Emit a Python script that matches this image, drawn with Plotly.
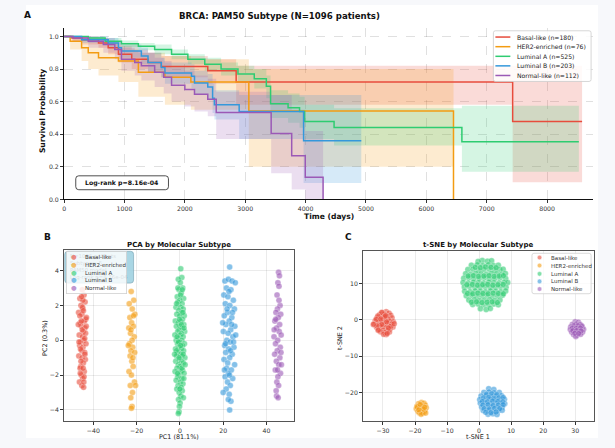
import plotly.graph_objects as go

W, H = 615, 448
FONT = "DejaVu Sans"


def px(x):
    return x / W


def py(y):
    return 1 - y / H


# ---------------- data ----------------
subtypes = ["Basal-like", "HER2-enriched", "Luminal A", "Luminal B", "Normal-like"]
counts = [180, 76, 525, 203, 112]
colors = ["#e74c3c", "#f39c12", "#2ecc71", "#3498db", "#9b59b6"]
rgb = [(231, 76, 60), (243, 156, 18), (46, 204, 113), (52, 152, 219), (155, 89, 182)]

km_t_basal = [0, 130, 300, 570, 730, 900, 1120, 1390, 1610, 2380, 2850, 7430, 8580]
km_s_basal = [1.0, 0.99, 0.98, 0.96, 0.93, 0.89, 0.86, 0.84, 0.815, 0.79, 0.72, 0.478, 0.478]
km_lo_basal = [1.0, 0.97, 0.95, 0.93, 0.89, 0.84, 0.80, 0.78, 0.75, 0.71, 0.58, 0.105, 0.105]
km_hi_basal = [1.0, 1.0, 1.0, 0.99, 0.97, 0.94, 0.92, 0.90, 0.88, 0.86, 0.82, 0.82, 0.82]

km_t_her2 = [0, 100, 290, 400, 570, 900, 1230, 1670, 2100, 3060, 6450]
km_s_her2 = [1.0, 0.97, 0.93, 0.90, 0.87, 0.85, 0.78, 0.75, 0.72, 0.543, 0.0]
km_lo_her2 = [1.0, 0.92, 0.85, 0.80, 0.76, 0.72, 0.63, 0.58, 0.55, 0.20, 0.0]
km_hi_her2 = [1.0, 1.0, 1.0, 0.98, 0.96, 0.95, 0.90, 0.88, 0.86, 0.80, 0.0]

km_t_luma = [0, 400, 680, 950, 1230, 1500, 1780, 2050, 2330, 2600, 2880, 3150, 3350, 3420, 3710, 3900, 3984, 4472, 6589, 8526]
km_s_luma = [1.0, 0.99, 0.97, 0.955, 0.94, 0.92, 0.89, 0.86, 0.83, 0.80, 0.77, 0.74, 0.695, 0.587, 0.563, 0.54, 0.478, 0.441, 0.354, 0.354]
km_lo_luma = [1.0, 0.98, 0.95, 0.935, 0.915, 0.89, 0.86, 0.83, 0.79, 0.76, 0.72, 0.68, 0.62, 0.50, 0.47, 0.44, 0.37, 0.33, 0.17, 0.17]
km_hi_luma = [1.0, 1.0, 0.99, 0.975, 0.96, 0.95, 0.92, 0.89, 0.87, 0.84, 0.82, 0.80, 0.76, 0.67, 0.65, 0.63, 0.58, 0.56, 0.575, 0.575]

km_t_lumb = [0, 290, 730, 900, 950, 1280, 1390, 1610, 1670, 2110, 2160, 2380, 2460, 2490, 2900, 3967, 4923]
km_s_lumb = [1.0, 0.98, 0.96, 0.93, 0.91, 0.88, 0.84, 0.81, 0.776, 0.756, 0.715, 0.69, 0.62, 0.58, 0.539, 0.36, 0.36]
km_lo_lumb = [1.0, 0.96, 0.93, 0.89, 0.87, 0.83, 0.78, 0.75, 0.71, 0.68, 0.64, 0.61, 0.53, 0.49, 0.37, 0.10, 0.10]
km_hi_lumb = [1.0, 1.0, 0.99, 0.97, 0.95, 0.93, 0.90, 0.87, 0.84, 0.83, 0.79, 0.77, 0.71, 0.67, 0.64, 0.64, 0.64]

km_t_norm = [0, 150, 400, 650, 840, 950, 1170, 1280, 1500, 1650, 1780, 2000, 2160, 2380, 2520, 3430, 3770, 3995, 4290]
km_s_norm = [1.0, 0.99, 0.97, 0.95, 0.92, 0.86, 0.84, 0.82, 0.78, 0.75, 0.70, 0.675, 0.645, 0.615, 0.533, 0.404, 0.268, 0.136, 0.0]
km_lo_norm = [1.0, 0.97, 0.93, 0.90, 0.86, 0.79, 0.76, 0.73, 0.69, 0.65, 0.60, 0.57, 0.54, 0.51, 0.37, 0.16, 0.06, 0.0, 0.0]
km_hi_norm = [1.0, 1.0, 1.0, 0.99, 0.97, 0.93, 0.91, 0.90, 0.87, 0.85, 0.81, 0.79, 0.76, 0.74, 0.66, 0.64, 0.55, 0.42, 0.0]

logrank_p = "8.16e-04"
n_patients = 1096
pc1_pct, pc2_pct = 81.1, 0.3

basal_pca = [(-45.1, 2.9), (-44.3, 2.6), (-46.2, 2.4), (-43.8, 2.2), (-45.7, 2.0), (-44.9, 1.8), (-46.8, 1.6), (-43.5, 1.2),
             (-45.3, 1.5), (-44.1, 1.1), (-46.0, 1.0), (-45.5, 0.8), (-43.9, 0.7), (-44.7, 0.5), (-46.5, 0.3), (-45.0, 0.2),
             (-44.4, 0.0), (-45.9, -0.1), (-43.2, 1.3), (-46.3, -0.3), (-44.8, -0.4), (-45.4, -0.6), (-44.0, -0.7), (-46.7, -0.9),
             (-45.2, -1.0), (-43.7, -1.1), (-44.6, -1.3), (-45.8, -1.5), (-46.1, -1.6), (-44.2, -1.8), (-45.6, -2.0), (-43.4, -0.2),
             (-44.9, -2.2), (-46.4, -2.4), (-45.3, -2.6), (-44.5, -2.7), (-45.0, 1.9), (-43.6, 0.4), (-46.9, 0.9), (-44.8, 2.3),
             (-45.7, -1.2), (-44.3, -2.1), (-45.1, 0.6), (-46.2, 1.4), (-43.9, -0.8), (-44.6, 1.7), (-45.4, 2.5), (-46.0, -1.9),
             (-44.0, 0.1), (-45.9, -0.5), (-43.3, 0.8), (-44.7, -1.6), (-45.5, 1.1), (-46.6, -0.1), (-44.4, -2.4)]
her2_pca = [(-22.5, 2.8), (-21.3, 2.3), (-23.4, 2.1), (-22.0, 1.8), (-20.8, 1.5), (-23.1, 1.3), (-22.3, 1.0), (-21.5, 0.8),
            (-23.6, 0.7), (-22.8, 0.4), (-21.1, 0.2), (-22.1, 0.0), (-23.3, -0.2), (-21.8, -0.4), (-22.6, -0.6), (-20.9, -0.7),
            (-23.0, -0.9), (-22.2, -1.2), (-21.6, -1.5), (-23.5, -1.8), (-22.4, -2.0), (-21.0, -2.4), (-22.9, -2.6), (-21.9, -3.0),
            (-22.7, -3.3), (-22.1, -3.8), (-22.4, -3.9), (-21.4, 1.4), (-23.8, -0.3), (-20.5, -2.6), (-22.6, 0.6), (-21.7, -1.0)]
luma_pca = [(0.4, 4.1), (0.9, 3.6), (-0.7, 3.5), (0.2, 3.3), (1.3, 3.0), (-0.4, 2.9), (0.6, 2.7), (-1.2, 2.5), (1.7, 2.4),
            (0.0, 2.3), (-0.9, 2.2), (1.0, 2.1), (-1.8, 1.9), (0.3, 1.9), (1.5, 1.8), (-0.5, 1.7), (0.8, 1.6), (-1.4, 1.5),
            (2.0, 1.4), (-0.1, 1.4), (1.2, 1.2), (-2.1, 1.1), (0.5, 1.1), (-0.8, 1.0), (1.8, 0.9), (0.1, 0.8), (-1.6, 0.8),
            (1.1, 0.7), (-0.3, 0.6), (2.2, 0.5), (-1.0, 0.5), (0.7, 0.4), (-2.3, 0.3), (0.2, 0.3), (1.5, 0.2), (-0.6, 0.1),
            (-1.7, 0.0), (0.9, 0.0), (0.0, -0.1), (2.1, -0.2), (-1.1, -0.2), (1.3, -0.3), (-0.4, -0.4), (-2.0, -0.5), (0.6, -0.5),
            (1.7, -0.6), (-0.9, -0.7), (0.3, -0.8), (-1.5, -0.9), (1.0, -0.9), (2.3, -1.0), (-0.2, -1.1), (-1.9, -1.2), (0.8, -1.2),
            (1.6, -1.3), (-0.7, -1.4), (0.1, -1.5), (-1.3, -1.6), (1.2, -1.7), (-2.2, -1.8), (0.5, -1.8), (1.9, -1.9), (-0.5, -2.0),
            (-1.0, -2.1), (0.9, -2.2), (-1.7, -2.3), (0.2, -2.4), (1.4, -2.5), (-0.8, -2.6), (0.6, -2.7), (-1.4, -2.8), (1.1, -2.9),
            (-0.3, -3.0), (0.4, -3.2), (1.6, -3.3), (-0.6, -3.4), (0.1, -3.6), (-0.2, -3.8), (-0.4, -4.1), (-0.7, -4.2), (0.3, 2.6),
            (-1.5, 2.1), (1.4, 1.6), (-0.2, 1.2), (0.7, 0.9), (-1.3, 0.2), (1.9, 0.7), (-0.7, -0.1), (0.4, -0.3), (-1.6, -0.6),
            (1.5, -0.8), (-0.4, -1.0), (0.9, -1.6), (-1.1, -1.9), (1.8, -2.2), (0.0, -2.8), (-2.4, -0.8), (2.4, -1.4), (-0.9, 3.0),
            (1.1, 2.9)]
lumb_pca = [(23.0, 4.2), (20.8, 3.4), (22.4, 3.5), (24.1, 3.4), (25.6, 3.3), (21.5, 3.0), (23.6, 2.9), (20.3, 2.6), (22.2, 2.5),
            (24.7, 2.3), (21.0, 2.1), (23.1, 2.0), (25.2, 1.8), (22.0, 1.6), (20.5, 1.4), (24.0, 1.3), (22.8, 1.1), (21.3, 0.9),
            (25.4, 0.8), (23.5, 0.6), (20.1, 0.5), (22.3, 0.4), (24.5, 0.2), (21.7, 0.0), (23.2, -0.1), (20.7, -0.3), (25.0, -0.4),
            (22.6, -0.5), (21.2, -0.7), (24.2, -0.8), (23.0, -1.0), (20.4, -1.1), (22.1, -1.3), (25.3, -1.4), (21.6, -1.6),
            (23.8, -1.7), (22.5, -1.9), (20.9, -2.1), (24.4, -2.2), (22.0, -2.4), (23.3, -2.6), (21.4, -2.8), (20.0, -3.0),
            (22.8, -3.1), (23.6, -3.5), (22.4, -3.4), (23.0, -4.0), (21.8, 1.8), (24.8, -0.1), (20.6, -1.7), (23.9, 0.9),
            (22.7, 2.8), (21.1, -0.2), (24.3, 1.6), (22.9, -2.0), (19.8, 1.0), (25.8, 0.3), (23.4, -0.6)]
normal_pca = [(45.6, 3.9), (46.0, 3.7), (45.3, 3.3), (45.8, 3.1), (44.9, 2.6), (46.3, 2.0), (45.1, 1.8), (44.4, 1.6), (46.6, 1.5),
              (45.5, 1.3), (43.9, 1.1), (46.1, 0.9), (44.7, 0.7), (45.9, 0.5), (43.5, 0.2), (46.8, 0.3), (45.2, 0.0), (44.2, -0.2),
              (46.4, -0.4), (45.0, -0.6), (43.8, -0.8), (46.2, -1.0), (44.6, -1.2), (45.7, -1.4), (44.1, -1.7), (46.5, -1.9),
              (45.3, -2.1), (44.8, -2.4), (45.6, -2.6), (44.5, -2.9), (44.7, -3.2), (45.4, -3.3), (46.9, -1.4), (43.6, 0.6),
              (45.8, 2.3), (44.3, 1.2), (46.7, -0.7), (45.1, -1.7)]

basal_tsne = [(-29.0, 2.2), (-30.2, 1.9), (-28.1, 1.8), (-31.0, 1.4), (-29.6, 1.5), (-27.6, 1.2), (-30.6, 0.9), (-28.8, 0.9),
              (-31.8, 0.5), (-29.9, 0.4), (-27.2, 0.5), (-28.4, 0.2), (-30.9, -0.1), (-32.4, -0.3), (-29.3, -0.2), (-27.9, -0.4),
              (-26.8, -0.6), (-31.4, -0.7), (-30.1, -0.9), (-28.6, -1.0), (-32.8, -1.2), (-27.3, -1.2), (-29.7, -1.4), (-31.1, -1.6),
              (-28.2, -1.7), (-30.5, -2.0), (-32.0, -2.1), (-26.9, -2.0), (-29.1, -2.2), (-27.8, -2.5), (-31.3, -2.7), (-30.0, -2.9),
              (-28.5, -3.0), (-29.4, -3.5), (-30.8, -3.3), (-28.0, -3.4), (-29.0, -4.1), (-29.8, -4.0), (-30.4, 2.0), (-31.6, 1.0),
              (-28.9, -0.6), (-30.4, -1.3), (-32.1, 0.1), (-27.5, -1.8), (-29.5, 0.8), (-28.3, -2.3), (-31.9, -1.7), (-30.7, 0.2),
              (-26.5, -1.1), (-33.0, -1.3), (-29.2, 1.1), (-28.7, -3.8), (-31.5, -2.9)]
her2_tsne = [(-18.0, -22.8), (-17.2, -23.0), (-18.9, -23.1), (-16.8, -23.5), (-18.3, -23.6), (-19.4, -23.8), (-17.5, -23.9),
             (-16.5, -24.2), (-18.6, -24.2), (-19.6, -24.5), (-17.8, -24.5), (-16.9, -24.8), (-18.2, -25.0), (-19.1, -25.2),
             (-17.1, -25.3), (-18.7, -25.6), (-17.6, -25.7), (-18.1, -26.0), (-16.7, -25.7), (-19.3, -24.0), (-17.4, -24.6),
             (-18.8, -24.8), (-18.4, -23.3), (-17.0, -24.1)]
luma_tsne = [(1.0, 16.3), (2.6, 16.1), (-0.3, 16.0), (3.9, 16.2),
             (-2.4, 15.0), (-0.6, 15.1), (1.1, 14.9), (2.9, 15.1), (4.5, 14.9), (6.0, 15.0),
             (-3.5, 13.8), (-1.9, 13.9), (-0.2, 13.7), (1.5, 13.8), (3.2, 13.9), (4.8, 13.7), (6.4, 13.8), (7.5, 13.9),
             (-4.2, 12.6), (-2.6, 12.5), (-1.0, 12.7), (0.6, 12.6), (2.3, 12.5), (3.9, 12.7), (5.5, 12.6), (7.0, 12.5), (8.2, 12.7),
             (-4.8, 11.4), (-3.2, 11.5), (-1.6, 11.3), (0.1, 11.4), (1.7, 11.5), (3.3, 11.3), (4.9, 11.4), (6.5, 11.5), (8.3, 11.3),
             (-5.0, 10.2), (-3.4, 10.1), (-1.8, 10.3), (-0.2, 10.2), (1.4, 10.1), (3.0, 10.3), (4.6, 10.2), (6.2, 10.1), (7.8, 10.3), (8.9, 10.2),
             (-4.6, 9.0), (-3.0, 9.1), (-1.3, 8.9), (0.3, 9.0), (1.9, 9.1), (3.5, 8.9), (5.1, 9.0), (6.7, 9.1), (8.4, 8.9),
             (-4.5, 7.8), (-2.8, 7.7), (-1.2, 7.9), (0.4, 7.8), (2.0, 7.7), (3.6, 7.9), (5.2, 7.8), (6.8, 7.7), (8.3, 7.9),
             (-4.0, 6.6), (-2.3, 6.7), (-0.7, 6.5), (0.9, 6.6), (2.5, 6.7), (4.1, 6.5), (5.7, 6.6), (7.3, 6.7),
             (-3.2, 5.4), (-1.5, 5.5), (0.1, 5.3), (1.7, 5.4), (3.3, 5.5), (4.9, 5.3), (6.5, 5.4),
             (-2.0, 4.2), (-0.3, 4.3), (1.4, 4.1), (3.0, 4.2), (4.6, 4.3), (6.0, 4.1),
             (0.4, 3.0), (2.2, 2.8), (3.5, 3.1),
             (-1.2, 14.4), (0.4, 14.3), (2.0, 14.5), (3.7, 14.4), (5.3, 14.3),
             (-3.4, 12.0), (-1.8, 12.1), (-0.2, 11.9), (1.5, 12.0), (3.1, 12.1), (4.7, 11.9), (6.3, 12.0), (7.6, 12.1),
             (-3.8, 9.6), (-2.1, 9.7), (-0.5, 9.5), (1.1, 9.6), (2.7, 9.7), (4.3, 9.5), (5.9, 9.6), (7.5, 9.7),
             (-3.6, 7.2), (-2.0, 7.1), (-0.4, 7.3), (1.2, 7.2), (2.8, 7.1), (4.4, 7.3), (6.0, 7.2), (7.6, 7.1),
             (-2.4, 4.8), (-0.8, 4.9), (0.9, 4.7), (2.5, 4.8), (4.1, 4.9), (5.7, 4.7)]
lumb_tsne = [(3.0, -19.0), (4.6, -19.2),
             (1.5, -20.0), (3.1, -19.9), (4.7, -20.1), (6.3, -20.0),
             (0.6, -21.0), (2.2, -20.9), (3.8, -21.1), (5.4, -21.0), (7.0, -20.9),
             (0.2, -22.0), (1.8, -22.1), (3.4, -21.9), (5.0, -22.0), (6.6, -22.1), (7.9, -21.9),
             (0.4, -23.0), (2.0, -22.9), (3.6, -23.1), (5.2, -23.0), (6.8, -22.9), (8.0, -23.1),
             (0.8, -24.0), (2.4, -24.1), (4.0, -23.9), (5.6, -24.0), (7.2, -24.1),
             (1.3, -25.0), (2.9, -24.9), (4.5, -25.1), (6.1, -25.0), (7.2, -24.9),
             (2.8, -26.0), (4.3, -25.9), (5.6, -26.1),
             (2.3, -20.5), (3.9, -20.4), (5.5, -20.6),
             (1.4, -21.5), (3.0, -21.4), (4.6, -21.6), (6.2, -21.5), (7.5, -21.4),
             (1.0, -22.5), (2.6, -22.6), (4.2, -22.4), (5.8, -22.5), (7.4, -22.6),
             (1.2, -23.5), (2.8, -23.4), (4.4, -23.6), (6.0, -23.5), (7.5, -23.4),
             (1.6, -24.5), (3.2, -24.6), (4.8, -24.4), (6.4, -24.5),
             (2.1, -25.5), (3.7, -25.6), (5.3, -25.4)]
normal_tsne = [(30.0, -0.6), (31.0, -0.7), (29.1, -1.3), (30.3, -1.2), (31.5, -1.3),
               (28.6, -2.0), (29.8, -2.1), (31.0, -1.9), (32.2, -2.0),
               (28.5, -2.7), (29.6, -2.6), (30.8, -2.8), (32.0, -2.7), (32.6, -2.6),
               (28.9, -3.4), (30.1, -3.5), (31.3, -3.3), (32.3, -3.4),
               (29.5, -4.1), (30.6, -4.2), (31.7, -4.0), (30.2, -4.6),
               (29.6, -1.65), (30.9, -1.6), (32.0, -1.7), (29.1, -2.35), (30.3, -2.4), (31.6, -2.3),
               (29.3, -3.05), (30.5, -3.0), (31.8, -3.1), (29.9, -3.75), (31.1, -3.8)]

km_sets = [
    (km_t_basal, km_s_basal, km_lo_basal, km_hi_basal),
    (km_t_her2, km_s_her2, km_lo_her2, km_hi_her2),
    (km_t_luma, km_s_luma, km_lo_luma, km_hi_luma),
    (km_t_lumb, km_s_lumb, km_lo_lumb, km_hi_lumb),
    (km_t_norm, km_s_norm, km_lo_norm, km_hi_norm),
]
pca_sets = [basal_pca, her2_pca, luma_pca, lumb_pca, normal_pca]
tsne_sets = [basal_tsne, her2_tsne, luma_tsne, lumb_tsne, normal_tsne]

fig = go.Figure()

# ---- Panel A: KM bands then lines ----
for (t, s, lo, hi), c in zip(km_sets, rgb):
    fig.add_trace(go.Scatter(x=t, y=lo, mode="lines", line=dict(width=0, shape="hv"),
                             showlegend=False, hoverinfo="skip", xaxis="x", yaxis="y"))
    fig.add_trace(go.Scatter(x=t, y=hi, mode="lines", line=dict(width=0, shape="hv"),
                             fill="tonexty", fillcolor="rgba(%d,%d,%d,0.2)" % c,
                             showlegend=False, hoverinfo="skip", xaxis="x", yaxis="y"))
for (t, s, lo, hi), col, name in zip(km_sets, colors, subtypes):
    fig.add_trace(go.Scatter(x=t, y=s, mode="lines", line=dict(width=1.5, shape="hv", color=col),
                             name=name, showlegend=False, xaxis="x", yaxis="y"))

# ---- Panel B & C: scatter ----
for pts, c, name in zip(pca_sets, rgb, subtypes):
    fig.add_trace(go.Scatter(x=[p[0] for p in pts], y=[p[1] for p in pts], mode="markers", name=name,
                             marker=dict(size=6, color="rgba(%d,%d,%d,0.6)" % c,
                                         line=dict(color="rgba(255,255,255,0.7)", width=0.4)),
                             showlegend=False, xaxis="x2", yaxis="y2"))
for pts, c, name in zip(tsne_sets, rgb, subtypes):
    fig.add_trace(go.Scatter(x=[p[0] for p in pts], y=[p[1] for p in pts], mode="markers", name=name,
                             marker=dict(size=6, color="rgba(%d,%d,%d,0.6)" % c,
                                         line=dict(color="rgba(255,255,255,0.7)", width=0.4)),
                             showlegend=False, xaxis="x3", yaxis="y3"))

tickfont = dict(family=FONT, size=6.2, color="#333")
common = dict(ticks="outside", ticklen=3, tickwidth=0.8, tickcolor="#333", tickfont=tickfont,
              zeroline=False, showline=True)

fig.update_layout(
    width=W, height=H, margin=dict(l=0, r=0, t=0, b=0),
    paper_bgcolor="#f7f8fb", plot_bgcolor="white", showlegend=False,
    font=dict(family=FONT, color="#222"),
    xaxis=dict(domain=[px(62.3), px(593)], range=[0, 8762], tickvals=list(range(0, 9000, 1000)),
               showgrid=True, gridcolor="rgba(0,0,0,0.12)", griddash="dash", gridwidth=0.6,
               linecolor="#111", linewidth=1.2, anchor="y", **common),
    yaxis=dict(domain=[py(200.7), py(28.5)], range=[0, 1.05], tickvals=[0, 0.2, 0.4, 0.6, 0.8, 1.0],
               tickformat=".1f", showgrid=True, gridcolor="rgba(0,0,0,0.12)", griddash="dash", gridwidth=0.6,
               linecolor="#111", linewidth=1.2, anchor="x", **common),
    xaxis2=dict(domain=[px(62.3), px(293.3)], range=[-53.5, 52.9], tickvals=[-40, -20, 0, 20, 40],
                showgrid=True, gridcolor="rgba(0,0,0,0.08)", mirror=True, linecolor="#555", linewidth=0.9,
                anchor="y2", **common),
    yaxis2=dict(domain=[py(424.3), py(251.7)], range=[-4.66, 5.18], tickvals=[-4, -2, 0, 2, 4],
                showgrid=True, gridcolor="rgba(0,0,0,0.08)", mirror=True, linecolor="#555", linewidth=0.9,
                anchor="x2", **common),
    xaxis3=dict(domain=[px(362.3), px(593.7)], range=[-36.2, 35.8], tickvals=[-30, -20, -10, 0, 10, 20, 30],
                showgrid=True, gridcolor="rgba(0,0,0,0.08)", mirror=True, linecolor="#555", linewidth=0.9,
                anchor="y3", **common),
    yaxis3=dict(domain=[py(424.3), py(252.3)], range=[-28.0, 19.0], tickvals=[-20, -10, 0, 10],
                showgrid=True, gridcolor="rgba(0,0,0,0.08)", mirror=True, linecolor="#555", linewidth=0.9,
                anchor="x3", **common),
)

shapes = []
annotations = []


def P(x, y):
    return "%.5f,%.5f" % (px(x), py(y))


def rrect(x0, y0, x1, y1, r):
    return ("M" + P(x0 + r, y0) + " L" + P(x1 - r, y0) + " Q" + P(x1, y0) + " " + P(x1, y0 + r) +
            " L" + P(x1, y1 - r) + " Q" + P(x1, y1) + " " + P(x1 - r, y1) +
            " L" + P(x0 + r, y1) + " Q" + P(x0, y1) + " " + P(x0, y1 - r) +
            " L" + P(x0, y0 + r) + " Q" + P(x0, y0) + " " + P(x0 + r, y0) + " Z")


def text(x, y, s, size, bold=False, xanchor="center", color="#222", angle=0):
    annotations.append(dict(x=px(x), y=py(y), xref="paper", yref="paper", showarrow=False,
                            text=("<b>%s</b>" % s) if bold else s, xanchor=xanchor, yanchor="middle",
                            textangle=angle, font=dict(family=FONT, size=size, color=color)))


# white figure canvas
shapes.append(dict(type="rect", xref="paper", yref="paper", x0=px(24), x1=px(598), y0=py(441), y1=py(5),
                   fillcolor="white", line=dict(width=0), layer="below"))

# Panel A texts
text(26, 15, "A", 9, bold=True, color="#111")
text(278, 16, "BRCA: PAM50 Subtype (N=%d patients)" % n_patients, 8.6, bold=True, color="#111")
text(40, 112, "Survival Probability", 7.6, bold=True, angle=-90, color="#111")
text(328, 217.7, "Time (days)", 7.6, bold=True, color="#111")
shapes.append(dict(type="path", xref="paper", yref="paper", path=rrect(74, 177, 167, 191, 3),
                   fillcolor="white", line=dict(color="#222", width=0.8), layer="above"))
text(120.5, 184, "Log-rank p=%s" % logrank_p, 6.2, bold=True, color="#111")

# Panel A legend
shapes.append(dict(type="path", xref="paper", yref="paper", path=rrect(493, 31, 591, 82, 2),
                   fillcolor="rgba(255,255,255,0.85)", line=dict(color="#cccccc", width=0.8), layer="above"))
rowsA = [37.3, 47.0, 56.7, 66.3, 76.0]
for yy, col, name, n in zip(rowsA, colors, subtypes, counts):
    shapes.append(dict(type="line", xref="paper", yref="paper", x0=px(495), x1=px(510), y0=py(yy), y1=py(yy),
                       line=dict(color=col, width=1.5), layer="above"))
    text(514.3, yy, "%s (n=%d)" % (name, n), 6.1, xanchor="left", color="#222")

# Panel B texts
text(46, 239, "B", 9, bold=True, color="#111")
text(178, 246.7, "PCA by Molecular Subtype", 7.0, bold=True, color="#111")
text(178, 440, "PC1 (%.1f%%)" % pc1_pct, 6.4, color="#222")
text(43.3, 340, "PC2 (%.1f%%)" % pc2_pct, 6.4, angle=-90, color="#222")

# stats box behind the legend in B
shapes.append(dict(type="path", xref="paper", yref="paper", path=rrect(63, 253, 132, 285, 3),
                   fillcolor="rgba(160,210,225,0.9)", line=dict(color="#7fa9b8", width=0.7), layer="above"))
annotations.append(dict(x=px(66), y=py(269), xref="paper", yref="paper", showarrow=False, xanchor="left",
                        yanchor="middle", align="left",
                        text="N=%d patients<br>Subtypes: %d<br>PAM50 model<br>Log-rank p=%s" % (n_patients, len(subtypes), logrank_p),
                        font=dict(family=FONT, size=5.4, color="#2f4f5a")))
# legend B box (annotation so it sits over the stats text)
annotations.append(dict(x=px(64), y=py(253), xref="paper", yref="paper", showarrow=False, xanchor="left",
                        yanchor="top", text=" ", width=59, height=41, borderpad=0, borderwidth=0.8,
                        bordercolor="#d0d0d0", bgcolor="rgba(255,255,255,0.82)"))
rowsB = [259.0, 267.0, 274.7, 282.3, 290.0]
for yy, c, name in zip(rowsB, rgb, subtypes):
    text(72, yy, "\u25cf", 6.5, color="rgba(%d,%d,%d,0.65)" % c)
    text(81.5, yy, name, 5.5, xanchor="left", color="#333")

# Panel C texts
text(347.7, 239, "C", 9, bold=True, color="#111")
text(477.7, 246.7, "t-SNE by Molecular Subtype", 7.0, bold=True, color="#111")
text(477.7, 440, "t-SNE 1", 6.4, color="#222")
text(339.3, 340, "t-SNE 2", 6.4, angle=-90, color="#222")
shapes.append(dict(type="path", xref="paper", yref="paper", path=rrect(531.7, 255, 591, 295.7, 2),
                   fillcolor="rgba(255,255,255,0.8)", line=dict(color="#d0d0d0", width=0.8), layer="above"))
rowsC = [259.3, 267.3, 275.7, 283.3, 291.0]
for yy, c, name in zip(rowsC, rgb, subtypes):
    r = 2.3
    shapes.append(dict(type="circle", xref="paper", yref="paper", x0=px(539.3 - r), x1=px(539.3 + r),
                       y0=py(yy + r), y1=py(yy - r), fillcolor="rgba(%d,%d,%d,0.6)" % c,
                       line=dict(color="white", width=0.4), layer="above"))
    text(549, yy, name, 5.5, xanchor="left", color="#333")

fig.update_layout(shapes=shapes, annotations=annotations)
fig.write_html("out.html")
